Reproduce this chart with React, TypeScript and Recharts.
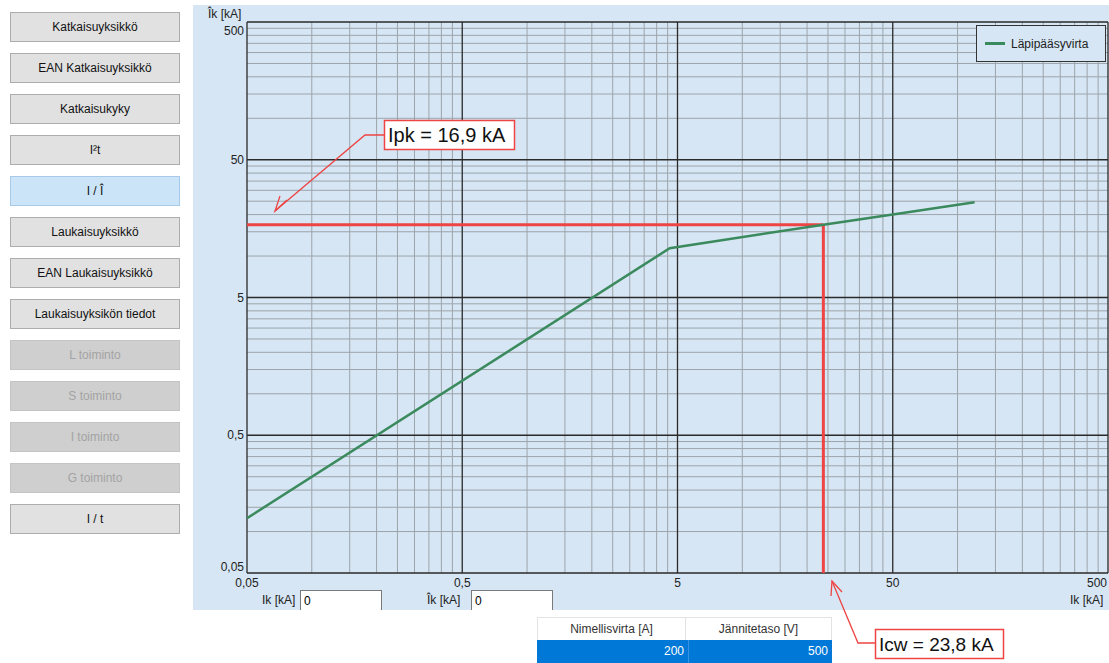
import React from "react";
import { LineChart, Line, XAxis, YAxis, ReferenceLine, Legend } from "recharts";

// through-current curve: prospective Ik [kA] vs peak Îk [kA]
const IK = [0.05, 4.6, 23.8, 50, 120];
const IK_PEAK = [0.125, 11.4, 16.9, 20.0, 24.6];

const X_MAJOR = [0.05, 0.5, 5, 50, 500];
const Y_MAJOR = [0.05, 0.5, 5, 50, 500];
const MINOR_STEPS = [2, 3, 4, 5, 6, 7, 8, 9];

const ICW = 23.8;
const IPK = 16.9;

const BUTTONS = [
  { label: "Katkaisuyksikkö", state: "normal" },
  { label: "EAN Katkaisuyksikkö", state: "normal" },
  { label: "Katkaisukyky", state: "normal" },
  { label: "I²t", state: "normal" },
  { label: "I / Î", state: "selected" },
  { label: "Laukaisuyksikkö", state: "normal" },
  { label: "EAN Laukaisuyksikkö", state: "normal" },
  { label: "Laukaisuyksikön tiedot", state: "normal" },
  { label: "L toiminto", state: "disabled" },
  { label: "S toiminto", state: "disabled" },
  { label: "I toiminto", state: "disabled" },
  { label: "G toiminto", state: "disabled" },
  { label: "I / t", state: "normal" },
];

const TABLE_HEAD = ["Nimellisvirta [A]", "Jännitetaso [V]"];
const TABLE_ROW = ["200", "500"];

const BLUE = "#d6e6f4";
const GREEN = "#3b8a5e";
const RED = "#ee4443";
const MINOR = "#9da4aa";
const MAJOR = "#2a2a2a";
const FONT = "'Liberation Sans', Arial, sans-serif";

const data = IK.map((ik, i) => ({ ik, peak: IK_PEAK[i] }));
const minorOf = (majors: number[]) =>
  majors.slice(0, -1).flatMap((d) => MINOR_STEPS.map((k) => +(d * k).toPrecision(3)));

const fmt = (v: number) => String(v).replace(".", ",");

const XTick = (props: any) => {
  const { x, y, payload } = props;
  const last = payload.value === X_MAJOR[X_MAJOR.length - 1];
  return (
    <text x={last ? x - 1 : x} y={y + 14} textAnchor={last ? "end" : "middle"} fontSize={12} fill="#222" fontFamily={FONT}>
      {fmt(payload.value)}
    </text>
  );
};

const YTick = (props: any) => {
  const { x, y, payload } = props;
  let dy = 4;
  if (payload.value === Y_MAJOR[Y_MAJOR.length - 1]) dy = 13;
  if (payload.value === Y_MAJOR[0]) dy = -2;
  return (
    <text x={x} y={y + dy} textAnchor="end" fontSize={12} fill="#222" fontFamily={FONT}>
      {fmt(payload.value)}
    </text>
  );
};

const LegendBox = () => (
  <div
    style={{
      boxSizing: "border-box", width: 130, height: 37, border: "1.5px solid #333", background: BLUE,
      display: "flex", alignItems: "center", paddingLeft: 8, fontFamily: FONT, fontSize: 12, color: "#222",
    }}
  >
    <span style={{ display: "inline-block", width: 20, height: 2.5, background: GREEN, marginRight: 6 }} />
    Läpipääsyvirta
  </div>
);

function Button({ label, state, top }: { label: string; state: string; top: number }) {
  const bg = state === "selected" ? "#cce4f7" : state === "disabled" ? "#cfcfcf" : "#e1e1e1";
  const border = state === "selected" ? "#a9c9e8" : state === "disabled" ? "#c4c4c4" : "#adadad";
  const color = state === "disabled" ? "#a3a3a3" : "#111";
  return (
    <div
      style={{
        position: "absolute", left: 10, top, width: 170, height: 30, boxSizing: "border-box",
        background: bg, border: `1px solid ${border}`, color, fontSize: 12, fontFamily: FONT,
        display: "flex", alignItems: "center", justifyContent: "center",
      }}
    >
      {label}
    </div>
  );
}

export default function App() {
  const xMinor = minorOf(X_MAJOR);
  const yMinor = minorOf(Y_MAJOR);
  return (
    <div style={{ position: "absolute", left: 0, top: 0, width: 1109, height: 663, background: "#fff", overflow: "hidden", fontFamily: FONT }}>
      {BUTTONS.map((b, i) => (
        <Button key={b.label} label={b.label} state={b.state} top={12 + i * 41} />
      ))}

      <div style={{ position: "absolute", left: 193, top: 5, width: 916, height: 605, background: BLUE }}>
        <LineChart width={916} height={605} data={data} margin={{ top: 17, right: 1, bottom: 0, left: 0 }}>
          <XAxis
            dataKey="ik" type="number" scale="log" domain={[0.05, 500]} allowDataOverflow ticks={X_MAJOR}
            interval={0} height={37} axisLine={false} tickLine={false} tickSize={0} tickMargin={0} tick={<XTick />}
          />
          <YAxis
            type="number" scale="log" domain={[0.05, 500]} allowDataOverflow ticks={Y_MAJOR}
            interval={0} width={54} axisLine={false} tickLine={false} tickSize={0} tickMargin={3} tick={<YTick />}
          />
          {xMinor.map((v) => (
            <ReferenceLine key={"xm" + v} x={v} stroke={MINOR} strokeWidth={1} />
          ))}
          {yMinor.map((v) => (
            <ReferenceLine key={"ym" + v} y={v} stroke={MINOR} strokeWidth={1} />
          ))}
          {X_MAJOR.map((v) => (
            <ReferenceLine key={"xM" + v} x={v} stroke={MAJOR} strokeWidth={1.3} />
          ))}
          {Y_MAJOR.map((v) => (
            <ReferenceLine key={"yM" + v} y={v} stroke={MAJOR} strokeWidth={1.3} />
          ))}
          <ReferenceLine segment={[{ x: 0.05, y: IPK }, { x: ICW, y: IPK }]} stroke={RED} strokeWidth={3} ifOverflow="visible" />
          <ReferenceLine segment={[{ x: ICW, y: 0.05 }, { x: ICW, y: IPK }]} stroke={RED} strokeWidth={3} ifOverflow="visible" />
          <Line
            dataKey="peak" name="Läpipääsyvirta" type="linear" stroke={GREEN} strokeWidth={2.5}
            dot={false} activeDot={false} isAnimationActive={false}
          />
          <Legend
            layout="horizontal" verticalAlign="middle" align="center"
            wrapperStyle={{ left: 783, top: 20, width: 130, height: 37 }} content={<LegendBox />}
          />
        </LineChart>
      </div>

      {/* input boxes under the chart */}
      <div style={{ position: "absolute", left: 262, top: 593, fontSize: 12, color: "#222" }}>Ik [kA]</div>
      <div style={{ position: "absolute", left: 300, top: 590, width: 82, height: 20, boxSizing: "border-box", background: "#fff", borderTop: "1px solid #7a7a7a", borderLeft: "1px solid #7a7a7a", borderRight: "1px solid #7a7a7a", fontSize: 12, paddingLeft: 3, paddingTop: 3 }}>0</div>
      <div style={{ position: "absolute", left: 427, top: 593, fontSize: 12, color: "#222" }}>Îk [kA]</div>
      <div style={{ position: "absolute", left: 471, top: 590, width: 82, height: 20, boxSizing: "border-box", background: "#fff", borderTop: "1px solid #7a7a7a", borderLeft: "1px solid #7a7a7a", borderRight: "1px solid #7a7a7a", fontSize: 12, paddingLeft: 3, paddingTop: 3 }}>0</div>

      {/* axis titles */}
      <div style={{ position: "absolute", left: 208, top: 7, fontSize: 12, color: "#222" }}>Îk [kA]</div>
      <div style={{ position: "absolute", left: 1070, top: 593, fontSize: 12, color: "#222" }}>Ik [kA]</div>

      {/* table */}
      <div style={{ position: "absolute", left: 537, top: 617, width: 295, height: 46, fontSize: 12 }}>
        <div style={{ display: "flex", height: 23, background: "#fff", borderTop: "1px solid #e3e3e3", boxSizing: "border-box" }}>
          {TABLE_HEAD.map((h, i) => (
            <div key={h} style={{ flex: i === 0 ? "0 0 147px" : 1, textAlign: "center", lineHeight: "22px", color: "#333", borderRight: "1px solid #e3e3e3", borderLeft: i === 0 ? "1px solid #e3e3e3" : "none" }}>{h}</div>
          ))}
        </div>
        <div style={{ display: "flex", height: 23, background: "#0078d7" }}>
          {TABLE_ROW.map((c, i) => (
            <div key={i} style={{ flex: i === 0 ? "0 0 147px" : 1, textAlign: "right", paddingRight: 4, lineHeight: "23px", color: "#fff", borderRight: i === 0 ? "1px solid #3a95e0" : "none" }}>{c}</div>
          ))}
        </div>
      </div>

      {/* callouts */}
      <svg width={1109} height={663} style={{ position: "absolute", left: 0, top: 0, pointerEvents: "none" }}>
        <g stroke={RED} strokeWidth={1.3} fill="none">
          <polyline points="384,135 365,135 275,211" />
          <polyline points="287,200 275,211 280,196" />
          <polyline points="875,643 858,643 832,581" />
          <polyline points="831,596 832,581 842,592" />
        </g>
        <rect x={384.5} y={120.5} width={130} height={29} fill="#fff" stroke={RED} strokeWidth={1.5} />
        <text x={388} y={142} fontSize={20} fill="#111" fontFamily={FONT}>Ipk = 16,9 kA</text>
        <rect x={875.5} y={629.5} width={128} height={29} fill="#fff" stroke={RED} strokeWidth={1.5} />
        <text x={879} y={651} fontSize={19} fill="#111" fontFamily={FONT}>Icw = 23,8 kA</text>
      </svg>
    </div>
  );
}
